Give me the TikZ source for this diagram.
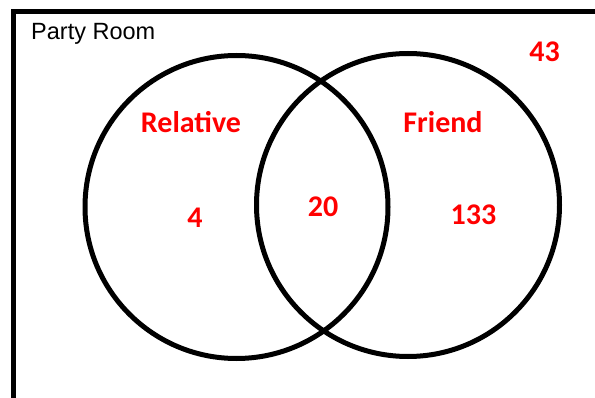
\documentclass[tikz,border=0pt]{standalone}
\usepackage{fontspec}
\setmainfont{Liberation Sans}
\newfontfamily\labelfont{Carlito}
\tikzset{
    x=1pt, y=-1pt,
    % Shapes
    room/.style={draw=black, line width=5pt},
    set/.style={circle, draw=black, line width=5pt, minimum size=303pt, inner sep=0pt},
    % Labels
    roomlbl/.style={inner sep=0pt, anchor=base west, font=\fontsize{23.5}{28}\selectfont},
    setlbl/.style={inner sep=0pt, anchor=base, text=red, font=\labelfont\bfseries\fontsize{30}{36}\selectfont}
}
\begin{document}
\begin{tikzpicture}

\useasboundingbox (0,0) rectangle (595,398);
\clip (0,0) rectangle (595,398);

% Room
\draw[room] (13,11.5) rectangle (640,440);
\node[roomlbl] (roomname) at (31,40) {Party Room};
\node[setlbl] (outside) at (544.5,61.5) {43};

% Sets
\node[set] (relative) at (236.5,207) {};
\node[set] (friend) at (408,205) {};

\node[setlbl] (relname) at (191,133) {Relative};
\node[setlbl] (frname) at (443,133) {Friend};
\node[setlbl] (relonly) at (195,228) {4};
\node[setlbl] (both) at (323,217) {20};
\node[setlbl] (fronly) at (473.5,224.5) {133};

\end{tikzpicture}
\end{document}
